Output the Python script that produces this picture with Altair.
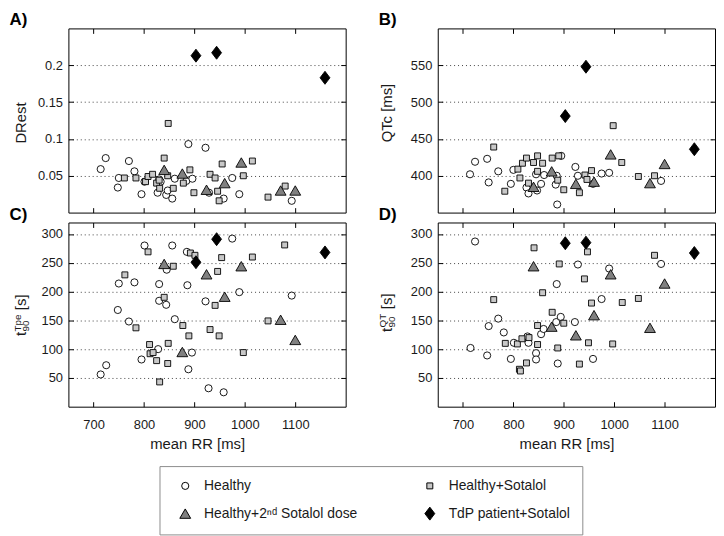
import altair as alt
import pandas as pd

GROUPS = ["Healthy", "Healthy+Sotalol", "Healthy+2\u207f\u1d48 Sotalol dose", "TdP patient+Sotalol"]
SHAPES = ["circle", "square", "triangle-up", "M0,-1.25L0.95,0L0,1.25L-0.95,0Z"]
FILLS = ["#ffffff", "#c8c8c8", "#808080", "#000000"]
STROKES = ["#000000", "#000000", "#000000", "#000000"]
SIZES = [52, 36, 120, 110]

# mean RR [ms] of the subjects given a 2nd sotalol dose and of the TdP patients
TRI_RR = [840, 876, 924, 960, 993, 1071, 1100]
TDP_RR = [903, 944, 1159]

# A) DRest
A_H_RR = [714, 724, 748, 750, 770, 781, 795, 801, 827, 830, 833, 844, 847, 856, 861, 884, 888, 896, 922, 929, 958, 975, 989, 1093]
A_H = [0.059, 0.074, 0.034, 0.047, 0.070, 0.056, 0.025, 0.042, 0.027, 0.045, 0.042, 0.024, 0.030, 0.019, 0.046, 0.043, 0.093, 0.046, 0.088, 0.027, 0.019, 0.047, 0.025, 0.016]
A_S_RR = [761, 784, 803, 808, 817, 825, 830, 831, 840, 847, 848, 858, 878, 891, 899, 931, 941, 946, 949, 955, 997, 1015, 1046, 1080]
A_S = [0.047, 0.047, 0.042, 0.049, 0.052, 0.040, 0.044, 0.033, 0.074, 0.050, 0.121, 0.033, 0.040, 0.058, 0.027, 0.052, 0.047, 0.029, 0.016, 0.066, 0.050, 0.070, 0.021, 0.036]
A_T = [0.058, 0.053, 0.031, 0.040, 0.068, 0.030, 0.030]
A_D = [0.213, 0.217, 0.183]

# B) QTc [ms]
B_H_RR = [714, 724, 748, 751, 770, 795, 800, 826, 830, 845, 847, 855, 861, 884, 886, 887, 895, 923, 928, 958, 975, 990, 1093]
B_H = [402, 419, 423, 391, 406, 389, 408, 384, 376, 402, 380, 389, 401, 388, 400, 361, 427, 412, 400, 389, 403, 404, 393]
B_S_RR = [761, 783, 809, 813, 818, 826, 830, 840, 848, 848, 858, 877, 888, 890, 900, 931, 942, 946, 955, 998, 1015, 1048, 1080]
B_S = [439, 379, 409, 397, 417, 424, 390, 418, 427, 406, 417, 424, 394, 427, 381, 377, 401, 395, 407, 468, 418, 399, 400]
B_T = [385, 406, 389, 392, 429, 390, 416]
B_D = [481, 548, 436]

# C) t90 Tpe [s]
C_H_RR = [714, 725, 748, 750, 770, 781, 795, 801, 828, 830, 830, 844, 845, 856, 861, 885, 886, 888, 895, 922, 928, 958, 975, 989, 1093]
C_H = [56, 72, 168, 214, 148, 216, 82, 280, 100, 213, 184, 177, 238, 280, 152, 269, 211, 65, 94, 183, 32, 25, 292, 199, 193]
C_S_RR = [762, 784, 808, 811, 812, 818, 825, 831, 840, 847, 848, 858, 877, 889, 892, 901, 931, 941, 946, 949, 954, 997, 1015, 1046, 1079]
C_S = [229, 137, 269, 108, 92, 94, 80, 43, 190, 75, 110, 244, 141, 123, 267, 263, 134, 176, 235, 123, 259, 94, 260, 149, 281]
C_T = [248, 95, 230, 191, 244, 151, 116]
C_D = [251, 291, 268]

# D) t90 QT [s]
D_H_RR = [715, 724, 748, 751, 770, 781, 795, 801, 828, 830, 845, 845, 855, 860, 885, 886, 888, 894, 922, 928, 958, 975, 990, 1093]
D_H = [102, 287, 89, 140, 153, 129, 83, 111, 122, 111, 93, 82, 126, 135, 147, 213, 75, 156, 147, 247, 83, 187, 240, 248]
D_S_RR = [761, 784, 808, 812, 814, 817, 826, 831, 841, 848, 848, 858, 877, 888, 891, 900, 931, 941, 947, 949, 955, 997, 1016, 1048, 1080]
D_S = [186, 110, 109, 65, 62, 118, 76, 120, 276, 141, 108, 198, 164, 102, 248, 145, 74, 222, 269, 111, 180, 109, 181, 188, 263]
D_T = [244, 139, 124, 159, 230, 137, 214]
D_D = [284, 285, 267]

X_TICKS = [700, 800, 900, 1000, 1100]


def table(h_rr, h, s_rr, s, t, d):
    rows = []
    for xs, ys, g in [(h_rr, h, GROUPS[0]), (s_rr, s, GROUPS[1]), (TRI_RR, t, GROUPS[2]), (TDP_RR, d, GROUPS[3])]:
        for x, y in zip(xs, ys):
            rows.append({"rr": x, "v": y, "group": g})
    return pd.DataFrame(rows)


LEG = alt.Legend(
    title=None, orient="none", legendX=92, legendY=442, columns=2, direction="horizontal",
    gridAlign="all", columnPadding=59, rowPadding=11, padding=12, labelLimit=400,
    strokeColor="#8c8c8c", fillColor="white",
    labelFontSize=14, labelOffset=12, labelColor="#1a1a1a", labelFont="Liberation Sans",
    symbolStrokeWidth=1, symbolOffset=7,
)

XSCALE = alt.Scale(domain=[650, 1200], nice=False, zero=False)


def panel(df, ydom, yticks, yfmt, letter, titles, bottom):
    ys = alt.Scale(domain=ydom, nice=False, zero=False)
    xa = dict(orient="bottom", values=X_TICKS, offset=-5, tickSize=5, domain=False, grid=False,
              labels=bottom, labelPadding=12, labelFontSize=13, format="d")
    if bottom:
        xa.update(title="mean RR [ms]", titleFontSize=15, titleFontWeight="normal",
                  titlePadding=5, titleX=130)
    else:
        xa.update(title=None)
    ya = alt.Axis(orient="left", values=yticks, offset=-5, tickSize=5, domain=False,
                  grid=True, gridDash=[1, 3], gridColor="#444444", gridWidth=1,
                  labelPadding=6, labelFontSize=13, format=yfmt, title=None)
    pts = alt.Chart(df).mark_point(filled=True, opacity=1, strokeWidth=0.9).encode(
        x=alt.X("rr:Q", scale=XSCALE, axis=alt.Axis(**xa)),
        y=alt.Y("v:Q", scale=ys, axis=ya),
        shape=alt.Shape("group:N", scale=alt.Scale(domain=GROUPS, range=SHAPES), legend=LEG),
        fill=alt.Fill("group:N", scale=alt.Scale(domain=GROUPS, range=FILLS), legend=LEG),
        stroke=alt.Stroke("group:N", scale=alt.Scale(domain=GROUPS, range=STROKES), legend=LEG),
        size=alt.Size("group:N", scale=alt.Scale(type="ordinal", domain=GROUPS, range=SIZES), legend=LEG),
    )
    box = alt.Chart(df).mark_point(opacity=0).encode(
        x=alt.X("rr:Q", scale=XSCALE, axis=alt.Axis(orient="top", values=X_TICKS, offset=-5, tickSize=5,
                                                      domain=False, grid=False, labels=False, title=None)),
        y=alt.Y("v:Q", scale=ys, axis=alt.Axis(orient="right", values=yticks, offset=-5, tickSize=5,
                                                 domain=False, grid=False, labels=False, title=None)),
    )
    layers = [pts, box]
    # panel letter and y-axis title pieces, placed as axis titles
    pieces = [(letter, 17, -60, -3.5, "left", 0, "bold", "#000000")]
    pieces += [(t, fs, tx, ty, al, 270, "normal", "#1a1a1a") for t, fs, tx, ty, al in titles]
    for text, fs, tx, ty, al, ang, fw, col in pieces:
        layers.append(alt.Chart(df).mark_point(opacity=0).encode(
            x=alt.X("rr:Q", scale=XSCALE, axis=None),
            y=alt.Y("v:Q", scale=ys, axis=alt.Axis(
                orient="left", domain=False, ticks=False, labels=False, grid=False,
                title=text, titleFontSize=fs, titleFontWeight=fw, titleX=tx, titleY=ty,
                titleAngle=ang, titleAlign=al, titleBaseline="alphabetic", titleColor=col)),
        ))
    return alt.layer(*layers).resolve_axis(x="independent", y="independent").properties(
        width=280, height=186)


pA = panel(table(A_H_RR, A_H, A_S_RR, A_S, A_T, A_D), [0, 0.25], [0.05, 0.1, 0.15, 0.2], "~g", "A)",
           [("DRest", 15, -43, 95, "center")], False)
pB = panel(table(B_H_RR, B_H, B_S_RR, B_S, B_T, B_D), [350, 600], [400, 450, 500, 550], "d", "B)",
           [("QTc [ms]", 15, -47, 85, "center")], False)
pC = panel(table(C_H_RR, C_H, C_S_RR, C_S, C_T, C_D), [0, 320], [50, 100, 150, 200, 250, 300], "d", "C)",
           [("t", 15, -43, 114, "left"), ("Tpe", 10, -48.5, 109.5, "left"),
            ("90", 10, -40, 109.5, "left"), ("[s]", 15, -43, 88, "left")], True)
pD = panel(table(D_H_RR, D_H, D_S_RR, D_S, D_T, D_D), [0, 320], [50, 100, 150, 200, 250, 300], "d", "D)",
           [("t", 15, -47, 110, "left"), ("QT", 10, -52.5, 105.5, "left"),
            ("90", 10, -44, 105.5, "left"), ("[s]", 15, -47, 87, "left")], True)

chart = alt.concat(pA, pB, pC, pD, columns=2, spacing={"row": 10, "column": 93}, bounds="flush").properties(
    padding=0
).configure(font="Liberation Sans").configure_view(stroke="black", strokeWidth=1).configure_axis(
    labelFont="Liberation Sans", titleFont="Liberation Sans", labelColor="#1a1a1a",
    titleColor="#1a1a1a", tickColor="black", tickWidth=1
)

chart.save("out.html", embed_options={"renderer": "svg", "actions": False})
